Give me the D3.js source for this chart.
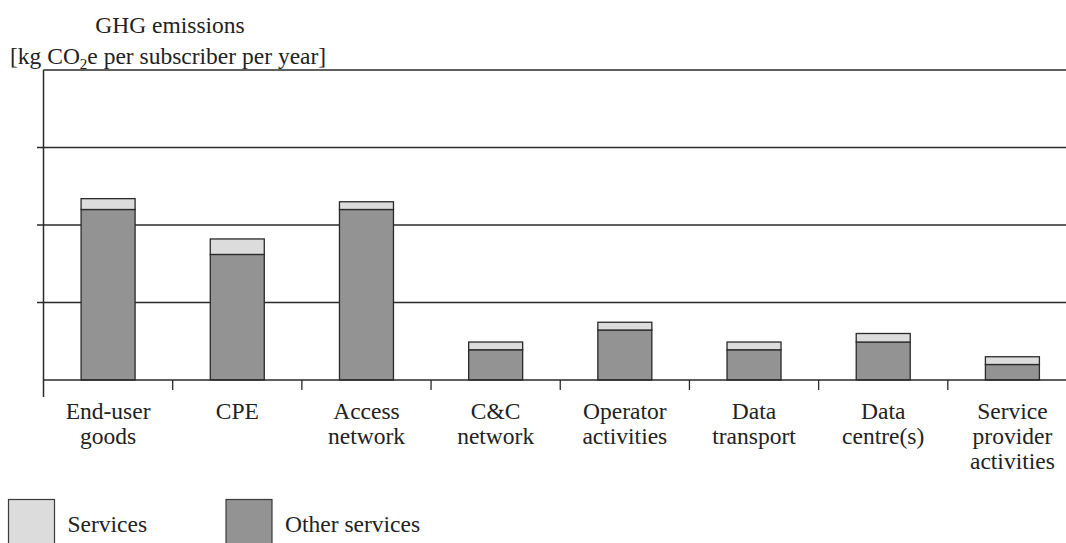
<!DOCTYPE html>
<html>
<head>
<meta charset="utf-8">
<script src="https://cdn.jsdelivr.net/npm/d3@7"></script>
<style>
  html, body { margin: 0; padding: 0; background: #ffffff; }
  svg { display: block; }
</style>
</head>
<body>
<svg id="chart" width="1066" height="543"></svg>
<script>
// ---- data ----
const categories = [
  ["End-user", "goods"],
  ["CPE"],
  ["Access", "network"],
  ["C&C", "network"],
  ["Operator", "activities"],
  ["Data", "transport"],
  ["Data", "centre(s)"],
  ["Service", "provider", "activities"]
];
const otherServices = [2.20, 1.62, 2.20, 0.39, 0.645, 0.39, 0.49, 0.20];
const services      = [0.14, 0.20, 0.10, 0.10, 0.10, 0.10, 0.11, 0.10];
const yTicks = [1, 2, 3, 4];
const seriesNames = ["Services", "Other services"];
const seriesColors = ["#dcdcdc", "#939393"];

// ---- layout ----
const svg = d3.select("#chart");
const W = 1066, H = 543;
const x0 = 43.5, x1 = 1077, yBase = 380, yTop = 70;
const ink = "#2a2a2a";
const textColor = "#222";
const fontFam = "'Liberation Serif'";
const fs = 23.5;

const keys = categories.map(c => c.join(" "));
const x = d3.scaleBand().domain(keys).range([x0, x1]).paddingInner(0).paddingOuter(0);
const y = d3.scaleLinear().domain([0, 4]).range([yBase, yTop]);
const barW = x.bandwidth() * 0.418;

// gridlines
svg.append("g").selectAll("line").data(yTicks).join("line")
  .attr("x1", x0).attr("x2", W)
  .attr("y1", d => y(d)).attr("y2", d => y(d))
  .attr("stroke", ink).attr("stroke-width", 1.5);

// left ticks (not at top)
svg.append("g").selectAll("line").data(yTicks.filter(d => d < 4)).join("line")
  .attr("x1", x0 - 6.5).attr("x2", x0)
  .attr("y1", d => y(d)).attr("y2", d => y(d))
  .attr("stroke", ink).attr("stroke-width", 1.5);

// bars: other services (bottom)
const bars = svg.append("g");
bars.selectAll("rect.other").data(keys).join("rect")
  .attr("class", "other")
  .attr("x", d => x(d) + (x.bandwidth() - barW) / 2)
  .attr("width", barW)
  .attr("y", (d, i) => y(otherServices[i]))
  .attr("height", (d, i) => y(0) - y(otherServices[i]))
  .attr("fill", seriesColors[1]).attr("stroke", ink).attr("stroke-width", 1.3);

bars.selectAll("rect.serv").data(keys).join("rect")
  .attr("class", "serv")
  .attr("x", d => x(d) + (x.bandwidth() - barW) / 2)
  .attr("width", barW)
  .attr("y", (d, i) => y(otherServices[i] + services[i]))
  .attr("height", (d, i) => y(otherServices[i]) - y(otherServices[i] + services[i]))
  .attr("fill", seriesColors[0]).attr("stroke", ink).attr("stroke-width", 1.3);

// baseline
svg.append("line")
  .attr("x1", x0).attr("x2", W).attr("y1", y(0)).attr("y2", y(0))
  .attr("stroke", ink).attr("stroke-width", 1.6);

// left axis
svg.append("line")
  .attr("x1", x0).attr("x2", x0).attr("y1", yTop).attr("y2", 397)
  .attr("stroke", ink).attr("stroke-width", 1.5);

// category separators
svg.append("g").selectAll("line").data(keys.slice(1)).join("line")
  .attr("x1", d => x(d)).attr("x2", d => x(d))
  .attr("y1", yBase).attr("y2", yBase + 10)
  .attr("stroke", ink).attr("stroke-width", 1.3);

// category labels
svg.selectAll("text.cat").data(categories).join("text")
  .attr("class", "cat")
  .attr("font-family", fontFam).attr("font-size", fs).attr("fill", textColor)
  .attr("text-anchor", "middle")
  .attr("x", (d, i) => x(keys[i]) + x.bandwidth() / 2)
  .attr("y", 419)
  .each(function(lines) {
    const t = d3.select(this);
    lines.forEach((l, j) => {
      t.append("tspan").attr("x", t.attr("x")).attr("dy", j === 0 ? 0 : 25).text(l);
    });
  });

// y title
svg.append("text").attr("x", 170).attr("y", 33)
  .attr("font-family", fontFam).attr("font-size", fs).attr("fill", textColor)
  .attr("text-anchor", "middle").text("GHG emissions");
const t2 = svg.append("text").attr("x", 10).attr("y", 64)
  .attr("font-family", fontFam).attr("font-size", fs).attr("fill", textColor);
t2.append("tspan").text("[kg CO");
t2.append("tspan").attr("font-size", 15).attr("dy", 5).text("2");
t2.append("tspan").attr("dy", -5).text("e per subscriber per year]");

// legend
const legX = [8.5, 226];
seriesNames.forEach((n, i) => {
  svg.append("rect").attr("x", legX[i]).attr("y", 499.5).attr("width", 46).attr("height", 60)
    .attr("fill", seriesColors[i]).attr("stroke", "#3a3a3a").attr("stroke-width", 1.2);
  svg.append("text").attr("x", legX[i] + 59).attr("y", 532)
    .attr("font-family", fontFam).attr("font-size", fs).attr("fill", textColor).text(n);
});
</script>
</body>
</html>
